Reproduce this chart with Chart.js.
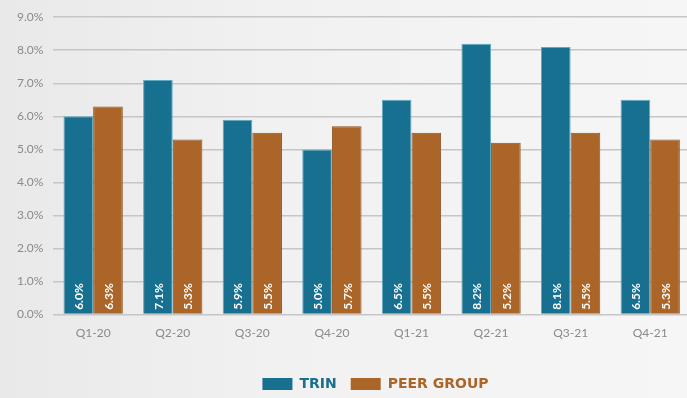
<!DOCTYPE html>
<html>
<head>
<meta charset="utf-8">
<script src="https://cdn.jsdelivr.net/npm/chart.js@4.4.0/dist/chart.umd.min.js"></script>
<style>
  html, body { margin: 0; padding: 0; overflow: hidden; }
  body { width: 687px; height: 398px; background: linear-gradient(90deg, #e9e9e9 0%, #f1f1f1 40%, #f6f6f6 100%); }
  #wrap { position: relative; width: 690px; height: 398px; }
</style>
</head>
<body>
<div id="wrap"><canvas id="myChart" width="690" height="398"></canvas></div>
<script>
// quarters and returns
const quarters = ["Q1-20", "Q2-20", "Q3-20", "Q4-20", "Q1-21", "Q2-21", "Q3-21", "Q4-21"];
const trin = [6.0, 7.1, 5.9, 5.0, 6.5, 8.2, 8.1, 6.5];
const peer = [6.3, 5.3, 5.5, 5.7, 5.5, 5.2, 5.5, 5.3];
const yTicks = [0, 1, 2, 3, 4, 5, 6, 7, 8, 9];

const TEAL = "#17708f";
const BROWN = "#ab6528";

// white rotated value labels at the foot of each bar
const barLabels = {
  id: "barLabels",
  afterDatasetsDraw(chart) {
    const ctx = chart.ctx;
    chart.data.datasets.forEach((ds, i) => {
      const meta = chart.getDatasetMeta(i);
      meta.data.forEach((bar, j) => {
        ctx.save();
        ctx.translate(bar.x, bar.base - 4);
        ctx.rotate(-Math.PI / 2);
        ctx.fillStyle = "#ffffff";
        ctx.font = "bold 12px Lato";
        ctx.textAlign = "left";
        ctx.textBaseline = "middle";
        ctx.fillText(ds.data[j].toFixed(1) + "%", 0, 1);
        ctx.restore();
      });
    });
  }
};

// the legend in the picture sits a bit right of centre and lower down
const legendShift = {
  id: "legendShift",
  afterLayout(chart) {
    const lg = chart.legend;
    lg.left += 27; lg.right += 27;
    lg.top += 20; lg.bottom += 20;
  }
};

var ctx = document.getElementById("myChart").getContext("2d");
var myChart = new Chart(ctx, {
  type: "bar",
  data: {
    labels: quarters,
    datasets: [{
      label: "TRIN",
      backgroundColor: TEAL,
      borderColor: "#5fa9c2",
      borderWidth: 1,
      data: trin,
    }, {
      label: "PEER GROUP",
      backgroundColor: BROWN,
      borderColor: "#8a5220",
      borderWidth: 1,
      data: peer,
    }],
  },
  options: {
    responsive: false,
    animation: false,
    devicePixelRatio: 1,
    layout: { padding: { top: 6, left: 7, right: 0, bottom: 17 } },
    datasets: { bar: { categoryPercentage: 0.745, barPercentage: 1.0 } },
    scales: {
      x: {
        grid: { display: false },
        border: { display: false },
        ticks: { color: "#8a8a8a", font: { family: "Lato", size: 12 }, padding: 3, maxRotation: 0 },
      },
      y: {
        min: 0,
        max: 9,
        afterBuildTicks(axis) { axis.ticks = yTicks.map(v => ({ value: v })); },
        grid: { color: "#c6c6c6", lineWidth: 1.5, drawTicks: false },
        border: { display: false },
        ticks: {
          color: "#8a8a8a",
          font: { family: "Lato", size: 12 },
          padding: 10,
          callback: v => v.toFixed(1) + "%",
        },
      },
    },
    plugins: {
      tooltip: { enabled: false },
      legend: {
        position: "bottom",
        labels: {
          boxWidth: 30,
          boxHeight: 12,
          padding: 14,
          font: { family: "DejaVu Sans", size: 14, weight: "bold" },
          generateLabels(chart) {
            return chart.data.datasets.map((ds, i) => ({
              text: ds.label,
              fillStyle: ds.backgroundColor,
              strokeStyle: ds.backgroundColor,
              lineWidth: 0,
              fontColor: ds.backgroundColor,
              datasetIndex: i,
            }));
          },
        },
      },
    },
  },
  plugins: [barLabels, legendShift],
});
</script>
</body>
</html>
